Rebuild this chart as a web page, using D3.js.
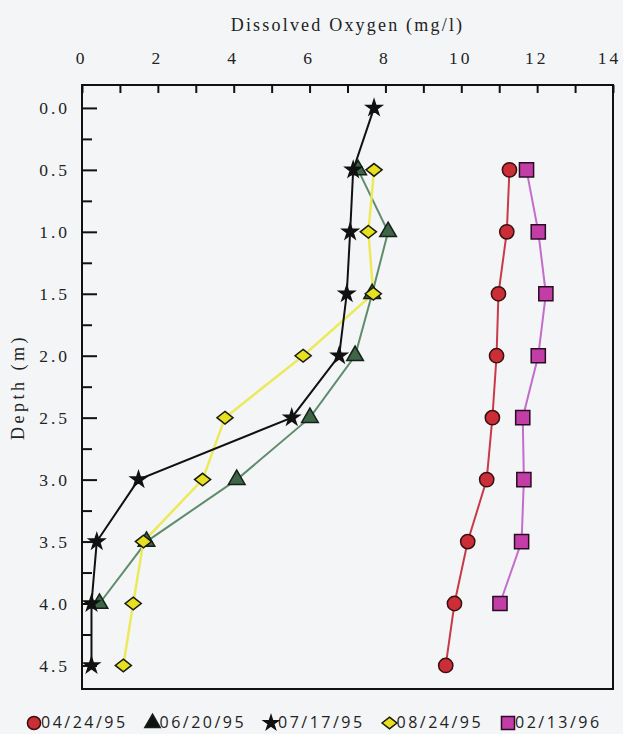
<!DOCTYPE html>
<html><head><meta charset="utf-8">
<script src="https://cdn.jsdelivr.net/npm/d3@7"></script>
<style>body{margin:0;background:#f3f4f6;} svg{display:block;}</style>
</head><body>
<svg id="chart" width="623" height="734"></svg>
<script>
// ---- data ----
const depths = [0, 0.5, 1.0, 1.5, 2.0, 2.5, 3.0, 3.5, 4.0, 4.5];
const seriesNames = ["04/24/95", "06/20/95", "07/17/95", "08/24/95", "02/13/96"];
const do_042495 = [null, 11.27, 11.2, 10.98, 10.93, 10.82, 10.67, 10.17, 9.82, 9.59];
const do_062095 = [null, 7.28, 8.07, 7.65, 7.2, 6.01, 4.08, 1.7, 0.46, null];
const do_071795 = [7.7, 7.15, 7.07, 6.98, 6.78, 5.53, 1.49, 0.39, 0.25, 0.25];
const do_082495 = [null, 7.7, 7.55, 7.68, 5.83, 3.77, 3.18, 1.62, 1.35, 1.09];
const do_021396 = [null, 11.72, 12.03, 12.23, 12.03, 11.62, 11.65, 11.59, 11.02, null];
const xLabelTicks = [0, 2, 4, 6, 8, 10, 12, 14];
const xMinorTicks = [1, 3, 5, 7, 9, 11, 13];
const yMajorTicks = [0, 0.5, 1.0, 1.5, 2.0, 2.5, 3.0, 3.5, 4.0, 4.5];
const yMinorTicks = [0.25, 0.75, 1.25, 1.75, 2.25, 2.75, 3.25, 3.75, 4.25];
const xTitle = "Dissolved Oxygen (mg/l)";
const yTitle = "Depth (m)";

const seriesValues = [do_042495, do_062095, do_071795, do_082495, do_021396];

// ---- styles ----
const diamondWide = {
  draw(ctx, size) {
    const s = Math.sqrt(size);
    const w = s * 0.6, h = s * 0.47;
    ctx.moveTo(0, -h); ctx.lineTo(w, 0); ctx.lineTo(0, h); ctx.lineTo(-w, 0); ctx.closePath();
  }
};
const styles = [
  {line: "#c83a48", fill: "#cc2e38", stroke: "#3a1010", sym: d3.symbolCircle, size: 160},
  {line: "#5f8c6c", fill: "#3e6548", stroke: "#142018", sym: d3.symbolTriangle, size: 120},
  {line: "#111111", fill: "#111111", stroke: "#111111", sym: d3.symbolStar, size: 75},
  {line: "#ecea5a", fill: "#e6e020", stroke: "#1a1a10", sym: diamondWide, size: 180},
  {line: "#c46ccc", fill: "#c23ea6", stroke: "#2a0c24", sym: d3.symbolSquare, size: 200}
];
const drawOrder = [0, 4, 1, 3, 2];

const svg = d3.select("#chart");
const W = 623, H = 734;
svg.append("rect").attr("width", W).attr("height", H).attr("fill", "#f4f5f7");

const x = d3.scaleLinear().domain([0, 14]).range([82, 613]);
const y = d3.scaleLinear().domain([-0.185, 4.69]).range([85, 689]);

const serif = "'Liberation Serif', 'DejaVu Serif', serif";

// frame
svg.append("rect")
  .attr("x", x(0)).attr("y", y(-0.185))
  .attr("width", x(14) - x(0)).attr("height", y(4.69) - y(-0.185))
  .attr("fill", "none").attr("stroke", "#111").attr("stroke-width", 2);

// top axis
const topAxis = svg.append("g").attr("transform", `translate(0,${y(-0.185)})`)
  .call(d3.axisTop(x).tickValues(xLabelTicks).tickSize(-8).tickPadding(21).tickFormat(d3.format("d")));
const topMinor = svg.append("g").attr("transform", `translate(0,${y(-0.185)})`)
  .call(d3.axisTop(x).tickValues(xMinorTicks).tickSize(-8).tickFormat(""));

// left axis
const leftAxis = svg.append("g").attr("transform", `translate(${x(0)},0)`)
  .call(d3.axisLeft(y).tickValues(yMajorTicks).tickSize(-15).tickPadding(12).tickFormat(d3.format(".1f")));
const leftMinor = svg.append("g").attr("transform", `translate(${x(0)},0)`)
  .call(d3.axisLeft(y).tickValues(yMinorTicks).tickSize(-10).tickFormat(""));

[topAxis, topMinor, leftAxis, leftMinor].forEach(g => {
  g.select(".domain").remove();
  g.selectAll(".tick line").attr("stroke", "#111").attr("stroke-width", 2);
  g.selectAll(".tick text").attr("fill", "#222").style("font-family", serif)
    .style("font-size", "17.5px").style("letter-spacing", "3px");
});
topAxis.selectAll(".tick text").attr("dx", "-1px");
topAxis.selectAll(".tick text").filter(d => d === 14).attr("dx", "-4px");

// titles
svg.append("text").attr("x", (x(0) + x(14)) / 2).attr("y", 31)
  .attr("text-anchor", "middle").attr("fill", "#222")
  .style("font-family", serif).style("font-size", "18px").style("letter-spacing", "2.2px")
  .text(xTitle);
svg.append("text").attr("transform", `translate(24,${(y(-0.185) + y(4.69)) / 2}) rotate(-90)`)
  .attr("text-anchor", "middle").attr("fill", "#222")
  .style("font-family", serif).style("font-size", "18px").style("letter-spacing", "3.5px")
  .text(yTitle);

// lines + markers
const lineGen = d3.line().defined(d => d.v !== null).x(d => x(d.v)).y(d => y(d.d));
const plot = svg.append("g");
drawOrder.forEach(i => {
  const pts = depths.map((d, k) => ({d: d, v: seriesValues[i][k]}));
  plot.append("path").datum(pts).attr("d", lineGen)
    .attr("fill", "none").attr("stroke", styles[i].line).attr("stroke-width", i === 3 ? 2.5 : 2);
});
drawOrder.forEach(i => {
  const st = styles[i];
  const pts = depths.map((d, k) => ({d: d, v: seriesValues[i][k]})).filter(p => p.v !== null);
  plot.selectAll(null).data(pts).enter().append("path")
    .attr("d", d3.symbol().type(st.sym).size(st.size))
    .attr("transform", p => `translate(${x(p.v)},${y(p.d)})`)
    .attr("fill", st.fill).attr("stroke", st.stroke).attr("stroke-width", 1.5);
});

// legend
const legend = svg.append("g");
const legX0 = 34, legStep = 118.5, legY = 722;
seriesNames.forEach((name, i) => {
  const st = styles[i];
  const cx = legX0 + i * legStep;
  legend.append("path").attr("d", d3.symbol().type(st.sym).size(st.size * 0.85))
    .attr("transform", `translate(${cx},${legY + 1})`)
    .attr("fill", i === 1 ? "#111" : st.fill).attr("stroke", st.stroke).attr("stroke-width", 1.5);
  legend.append("text").attr("x", cx + 7).attr("y", legY + 6)
    .attr("fill", "#222").style("font-family", "'Open Sans', sans-serif")
    .style("font-size", "16px").style("letter-spacing", "2.5px")
    .text(name);
});
</script>
</body></html>
